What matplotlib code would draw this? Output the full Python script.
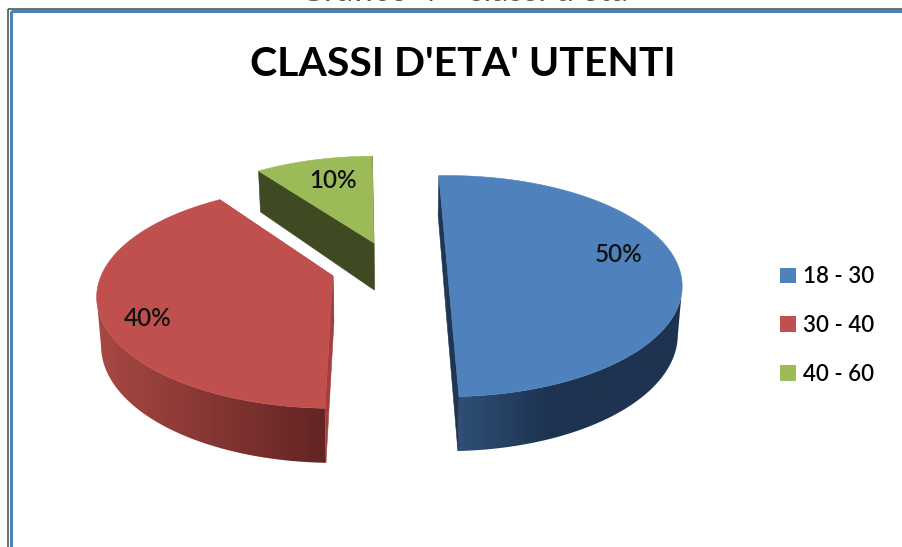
import numpy as np
import matplotlib
matplotlib.use("Agg")
import matplotlib.pyplot as plt
from matplotlib.patches import Patch, Rectangle, Polygon
from matplotlib.colors import to_rgb

# Dati
titolo = "CLASSI D'ETA' UTENTI"
classi = ["18 - 30", "30 - 40", "40 - 60"]
valori = [50, 40, 10]

# Stile delle fette: colore sopra, parete chiara/scura, taglio
col_top = ["#4F81BD", "#C0504D", "#9BBB59"]
col_wall_a = ["#33557F", "#A84844", "#3F4A23"]
col_wall_b = ["#1D3350", "#632423", "#3F4A23"]
col_cut = ["#1F3552", "#A23F3C", "#3F4A23"]

# apice di ogni fetta (pixel), scala del raggio, correzione angolo
apici = [(447, 265), (333, 276), (374, 243)]
scale = [1.005, 1.01, 0.975]
twist = [0, 4.0, 1.9]
start0 = -2.4

# prospettiva
A = 229.7
C = 106.0
K = 0.191
H = 47.0
ftitle = 29.5
font = "Lato"


def top_pt(theta, apex, s):
    X = np.sin(np.radians(theta))
    Y = np.cos(np.radians(theta))
    d = 1 + K * Y
    return apex[0] + s * A * X / d, apex[1] - s * C * Y / d


def bottom(x, y, Y):
    # base della fetta: leggermente convergente verso il centro
    h = H * (1 - 0.16 * Y)
    return 390 + (x - 390) * 0.985, y + h


def base_pt(theta, apex, s):
    x, y = top_pt(theta, apex, s)
    return bottom(x, y, np.cos(np.radians(theta)))


fig = plt.figure(figsize=(9.03, 5.47), dpi=100)
ax = fig.add_axes([0, 0, 1, 1])
ax.axis("off")

inizi = []
ang = start0
for v, tw in zip(valori, twist):
    inizi.append(ang + tw)
    ang += v * 3.6

for i, v in enumerate(valori):
    t0 = inizi[i]
    t1 = t0 + v * 3.6
    apex = apici[i]
    s = scale[i]
    tt = np.arange(t0, t1 + 0.5, 1.0)
    tt[-1] = t1
    pts = np.array([top_pt(t, apex, s) for t in tt])
    bts = np.array([base_pt(t, apex, s) for t in tt])
    ab = bottom(apex[0], apex[1], 0)

    # parete curva con sfumatura, dal punto piu' largo in poi
    vis = np.cos(np.radians(tt)) <= -K
    if vis.sum() > 1:
        ca = np.array(to_rgb(col_wall_a[i]))
        cb = np.array(to_rgb(col_wall_b[i]))
        f = np.linspace(0, 1, 256)
        if i == 0:
            f = np.minimum(f * 2.2, 1)
        grad = (ca[None, :] + (cb - ca)[None, :] * f[:, None])[None, :, :]
        x0, x1 = pts[:, 0].min(), pts[:, 0].max()
        im = ax.imshow(grad, extent=(x0, x1, 547, 0), aspect="auto", zorder=2,
                       interpolation="bilinear")
        poli = np.vstack([pts[vis], bts[vis][::-1]])
        im.set_clip_path(Polygon(poli, transform=ax.transData))

    # facce di taglio
    for k in (0, -1):
        q = [apex, pts[k], bts[k], ab]
        ax.fill(*zip(*q), fc=col_cut[i], ec=col_cut[i], lw=0.4, zorder=2)

    # faccia superiore
    poli = np.vstack([[apex], pts])
    ax.fill(poli[:, 0], poli[:, 1], fc=col_top[i], ec=col_top[i], lw=0.4, zorder=3)

ax.set_xlim(0, 903)
ax.set_ylim(547, 0)

# cornice
ax.add_patch(Rectangle((8.5, 8.5), 1000, 1000, fc="none", ec="#555555", lw=1.2))
ax.add_patch(Rectangle((11, 11.2), 1000, 1000, fc="none", ec="#4F81BD", lw=2.2))

# didascalia tagliata in alto
ax.text(464, 0.7, "Grafico 4 - classi d'età", ha="center", va="baseline", fontsize=24.5,
        family=font, color="#555555", clip_on=True)

ax.text(463, 65, titolo, ha="center", va="center", fontsize=ftitle, family=font,
        weight="bold", color="black")

# etichette
pos_et = [(619, 254), (148, 318), (333, 180)]
for v, p in zip(valori, pos_et):
    ax.text(p[0], p[1], f"{v}%", ha="center", va="center", fontsize=17.5,
            family=font, weight=600, color="#111111", zorder=5)

# legenda
maniglie = [Patch(fc=c, ec="none") for c in col_top]
leg = ax.legend(maniglie, classi, loc="center left", bbox_to_anchor=(760, 325.5),
                bbox_transform=ax.transData, frameon=False, handlelength=0.72,
                handleheight=0.72, handletextpad=0.32, labelspacing=1.25,
                prop={"family": font, "size": 16, "weight": 600})

plt.savefig("out.png", dpi=100)
